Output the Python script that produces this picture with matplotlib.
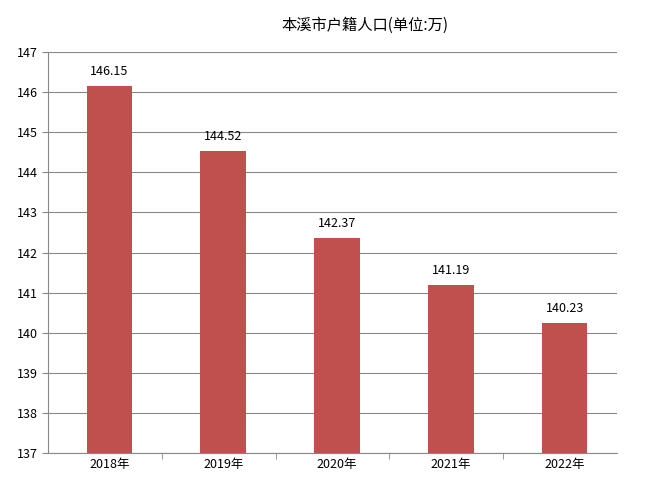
import matplotlib
matplotlib.use("Agg")
import matplotlib.pyplot as plt

plt.rcParams['font.family'] = ['Noto Sans CJK SC', 'DejaVu Sans']

years = ["2018年", "2019年", "2020年", "2021年", "2022年"]
population = [146.15, 144.52, 142.37, 141.19, 140.23]
yticks = list(range(137, 148))

fig = plt.figure(figsize=(6.62, 4.88), dpi=100)
ax = fig.add_axes([48 / 662, 35 / 488, 569 / 662, 401 / 488])

x = [i + 0.04 for i in range(len(years))]
ax.bar(x, population, width=0.4, color="#C0504D", zorder=3)
for xi, v in zip(x, population):
    ax.text(xi, v + 0.2, f"{v:.2f}", ha="center", va="bottom", fontsize=9)

ax.set_xlim(-0.5, len(years) - 0.5)
ax.set_ylim(137, 147)
ax.set_yticks(yticks)
ax.set_xticks(x)
ax.set_xticklabels(years, fontsize=9)
ax.set_xticks([i + 0.5 for i in range(len(years) - 1)], minor=True)
ax.tick_params(axis="x", which="minor", length=4, color="#888888")
ax.tick_params(axis="y", labelsize=9, length=4, color="#888888")
ax.tick_params(axis="x", which="major", length=0)
ax.grid(axis="y", color="#888888", linewidth=0.8, zorder=0)
for s in ["top", "right"]:
    ax.spines[s].set_visible(False)
for s in ["left", "bottom"]:
    ax.spines[s].set_color("#888888")

fig.text(365 / 662, 1 - 25 / 488, "本溪市户籍人口(单位:万)", ha="center", va="center", fontsize=11)

fig.savefig("out.png", dpi=100)
